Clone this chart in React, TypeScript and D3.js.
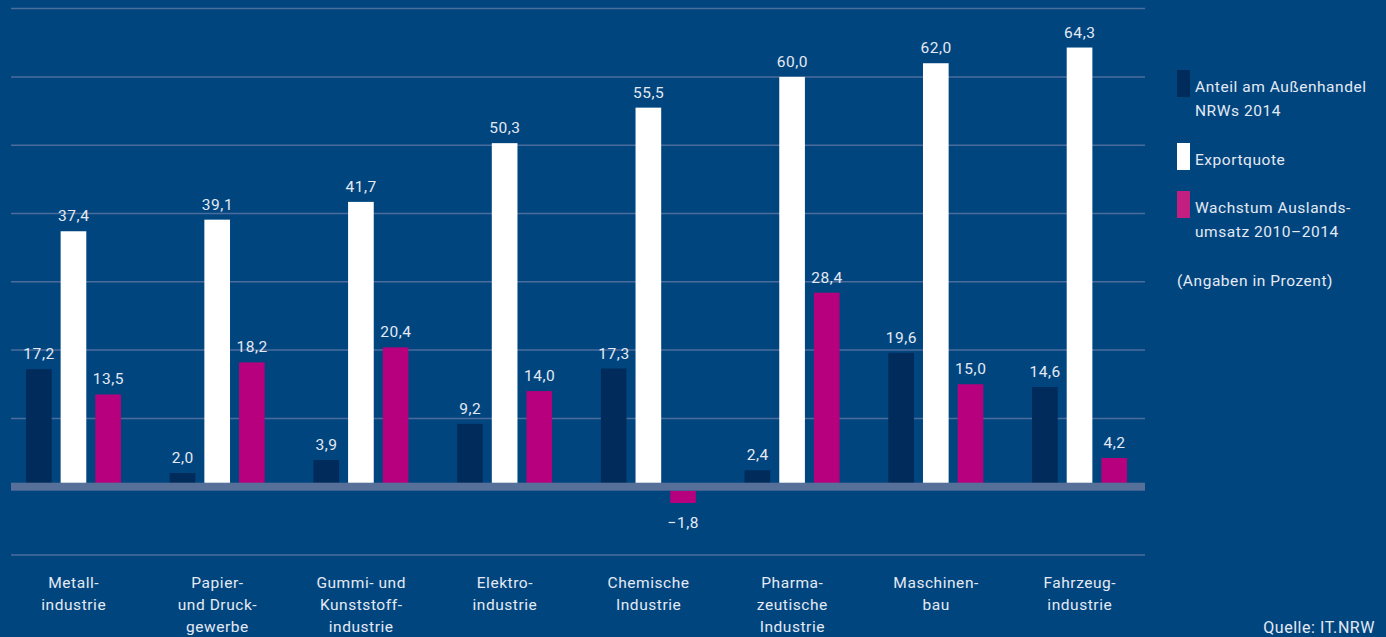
import React from "react";
import * as d3 from "d3";

const categories: string[][] = [
  ["Metall-", "industrie"],
  ["Papier-", "und Druck-", "gewerbe"],
  ["Gummi- und", "Kunststoff-", "industrie"],
  ["Elektro-", "industrie"],
  ["Chemische", "Industrie"],
  ["Pharma-", "zeutische", "Industrie"],
  ["Maschinen-", "bau"],
  ["Fahrzeug-", "industrie"],
];
const anteil = [17.2, 2.0, 3.9, 9.2, 17.3, 2.4, 19.6, 14.6];
const exportquote = [37.4, 39.1, 41.7, 50.3, 55.5, 60.0, 62.0, 64.3];
const wachstum = [13.5, 18.2, 20.4, 14.0, -1.8, 28.4, 15.0, 4.2];
const gridTicks = [-10, 10, 20, 30, 40, 50, 60, 70];
const seriesNames = ["Anteil", "Export", "Wachstum"];
const legendItems = [
  { lines: ["Anteil am Außenhandel", "NRWs 2014"] },
  { lines: ["Exportquote"] },
  { lines: ["Wachstum Auslands-", "umsatz 2010–2014"] },
];
const note = "(Angaben in Prozent)";
const source = "Quelle: IT.NRW";

const W = 1386;
const H = 637;
const BG = "#01457f";
const COLORS = ["#002b5a", "#ffffff", "#b6007e"];
const LEGEND_COLORS = ["#002b5a", "#ffffff", "#c21f80"];
const TEXT = "#e4eaf3";
const FONT = "Roboto, 'Open Sans', sans-serif";
const FS = 15.5;
const LS = 0.55;

export default function App() {
  const y = d3.scaleLinear().domain([-10, 70]).range([555, 8.6]);
  const x0 = d3
    .scaleBand<number>()
    .domain(d3.range(categories.length))
    .range([1.6, 1151.4])
    .paddingInner(0)
    .paddingOuter(0);
  const x1 = d3
    .scaleBand<string>()
    .domain(seriesNames)
    .range([0, 95])
    .paddingInner(0.26);
  const groupOffset = (x0.bandwidth() - 95) / 2;
  const series = [anteil, exportquote, wachstum];
  const fmt = (v: number) => d3.format(".1f")(v).replace(".", ",").replace("-", "–");
  const gx0 = 11;
  const gx1 = 1145;

  return (
    <svg
      width={W}
      height={H}
      style={{ position: "absolute", left: 0, top: 0, display: "block" }}
      fontFamily={FONT}
      letterSpacing={LS}
    >
      <rect x={0} y={0} width={W} height={H} fill={BG} />
      {gridTicks.map((t) => (
        <line
          key={t}
          x1={gx0}
          x2={gx1}
          y1={y(t)}
          y2={y(t)}
          stroke="#4b6d9c"
          strokeWidth={1.5}
        />
      ))}
      {series.map((vals, si) =>
        vals.map((v, i) => {
          const bx = (x0(i) as number) + groupOffset + (x1(seriesNames[si]) as number);
          const top = v >= 0 ? y(v) : y(0) + 4;
          const h = v >= 0 ? y(0) - y(v) : y(v) - y(0);
          return (
            <rect
              key={`${si}-${i}`}
              x={bx}
              y={top}
              width={x1.bandwidth()}
              height={h}
              fill={COLORS[si]}
            />
          );
        })
      )}
      <rect x={gx0} y={y(0) - 4} width={gx1 - gx0} height={8} fill="#57709a" />
      {series.map((vals, si) =>
        vals.map((v, i) => {
          const bx = (x0(i) as number) + groupOffset + (x1(seriesNames[si]) as number);
          const cx = bx + x1.bandwidth() / 2 + LS / 2;
          const ty = v >= 0 ? y(v) - 10 : y(v) + 29;
          return (
            <text
              key={`l${si}-${i}`}
              x={cx}
              y={ty}
              textAnchor="middle"
              fontSize={FS}
              fill={TEXT}
            >
              {fmt(v)}
            </text>
          );
        })
      )}
      {categories.map((lines, i) => {
        const cx = (x0(i) as number) + x0.bandwidth() / 2 + LS / 2;
        return (
          <text key={`c${i}`} textAnchor="middle" fontSize={FS} fill={TEXT}>
            {lines.map((ln, k) => (
              <tspan key={k} x={cx} y={588 + k * 22}>
                {ln}
              </tspan>
            ))}
          </text>
        );
      })}
      {(() => {
        let yy = 70;
        const out: React.ReactNode[] = [];
        legendItems.forEach((it, i) => {
          out.push(
            <rect key={`s${i}`} x={1177} y={yy} width={13} height={27} fill={LEGEND_COLORS[i]} />
          );
          out.push(
            <text key={`t${i}`} fontSize={FS} fill={TEXT}>
              {it.lines.map((ln, k) => (
                <tspan key={k} x={1195} y={yy + 22 + k * 23.5}>
                  {ln}
                </tspan>
              ))}
            </text>
          );
          yy += it.lines.length === 2 ? 73 : 48;
        });
        out.push(
          <text key="note" x={1177} y={yy + 22} fontSize={FS} fill={TEXT}>
            {note}
          </text>
        );
        return out;
      })()}
      <text x={1375} y={633} textAnchor="end" fontSize={16} fill={TEXT}>
        {source}
      </text>
    </svg>
  );
}
